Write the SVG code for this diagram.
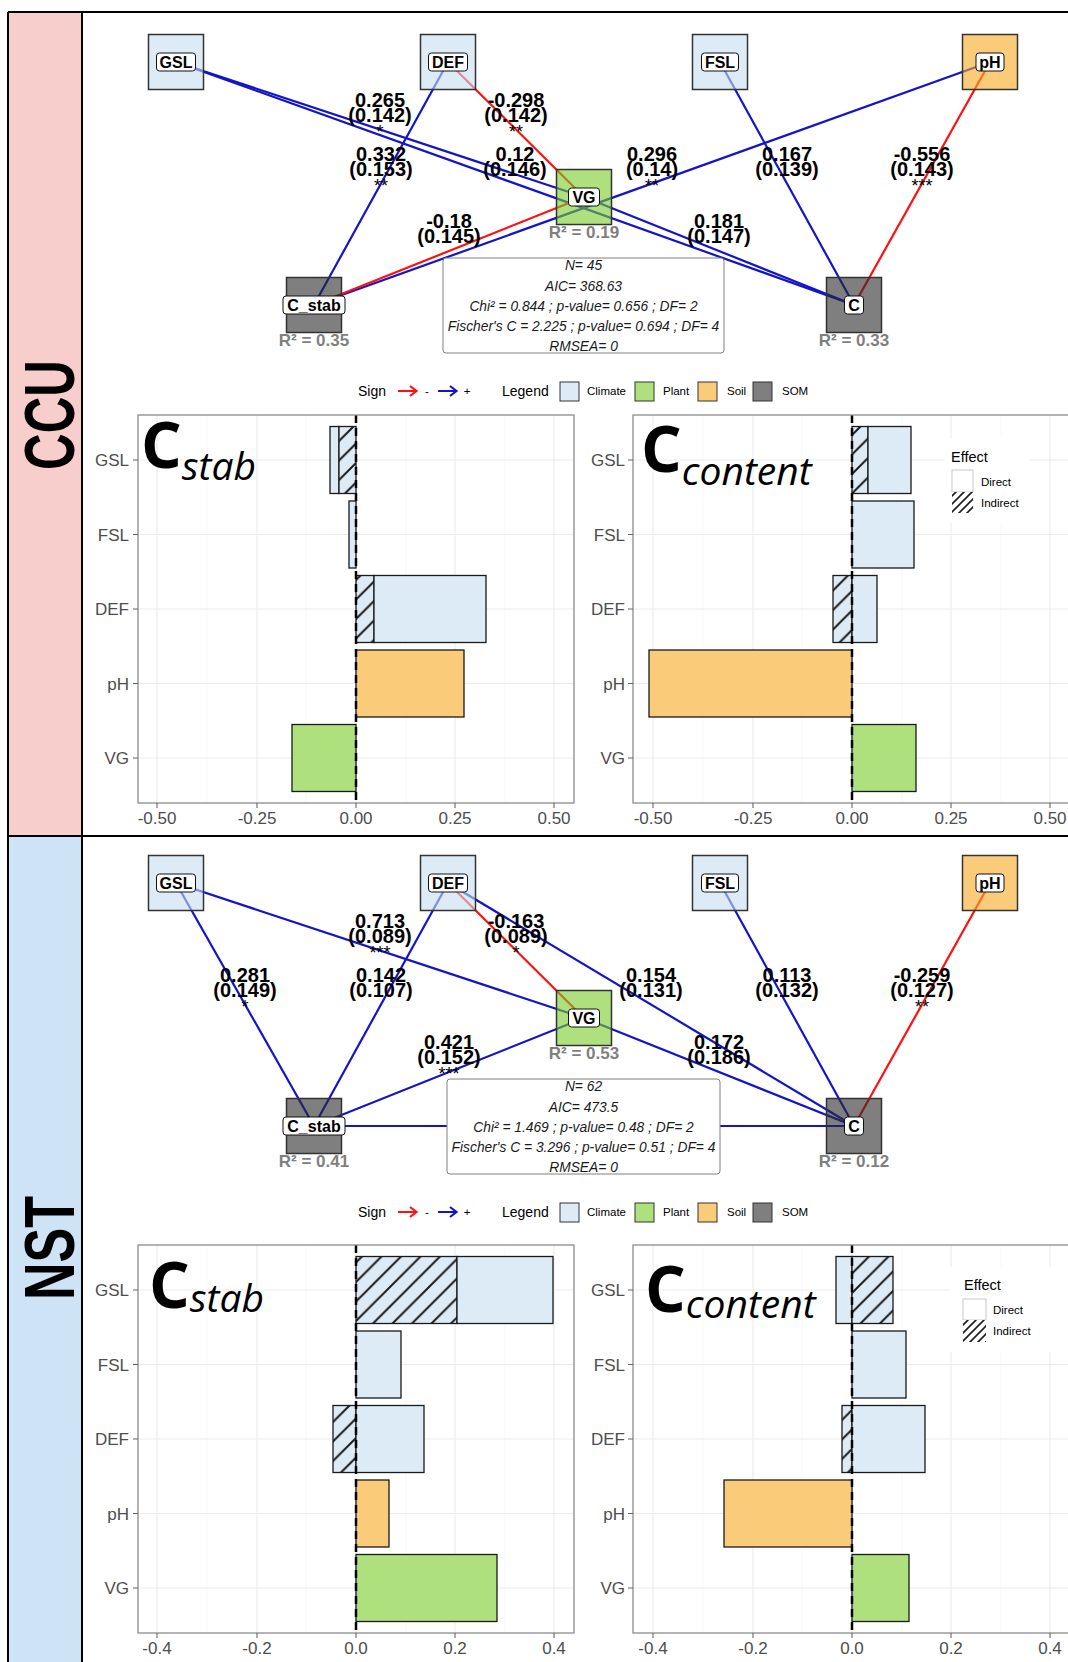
<svg xmlns="http://www.w3.org/2000/svg" width="1068" height="1662" viewBox="0 0 1068 1662">
<style>
text{font-family:"Liberation Sans",Arial,sans-serif}
.e{fill:none;stroke-width:2.2}
.p{stroke:#1414C8}
.n{stroke:#FF1010}
.el{font-weight:bold;font-size:20px;text-anchor:middle}
.sr{font-size:18px;text-anchor:middle}
.nb{stroke:#333;stroke-width:1.5}
.nc{fill:rgb(198,222,242);fill-opacity:.6}
.np{fill:rgb(120,203,40);fill-opacity:.6}
.ns{fill:rgb(246,170,33);fill-opacity:.6}
.nm{fill:rgb(42,42,42);fill-opacity:.6}
.lb{fill:#fff;stroke:#111;stroke-width:1}
.lt{font-weight:bold;font-size:16px;text-anchor:middle}
.r2{font-weight:bold;font-size:17px;fill:#7F7F7F;text-anchor:middle}
.sb{fill:#fff;stroke:#808080;stroke-width:1}
.stt{font-style:italic;font-size:13.8px;fill:#1A1A1A;text-anchor:middle}
.lg{font-size:14px}
.ls{font-size:11.5px}
.kc{fill:#DDEBF7}.kp{fill:#AEE07E}.ks{fill:#FACC7A}.km{fill:#7F7F7F}
.k{stroke:#333;stroke-width:1}
.gM{stroke:#EBEBEB;stroke-width:1.1;fill:none}
.gm{stroke:#F3F3F3;stroke-width:.6;fill:none}
.bar{stroke:#1A1A1A;stroke-width:1.3}
.h{fill:url(#hatch)}
.hk{fill:url(#hatchk)}
.z{stroke:#000;stroke-width:2.5;stroke-dasharray:8 5;fill:none}
.pb{fill:none;stroke:#8C8C8C;stroke-width:1.3}
.tk{stroke:#666;stroke-width:1.1;fill:none}
.ty{font-size:17px;fill:#4D4D4D;text-anchor:end}
.tx{font-size:17px;fill:#4D4D4D;text-anchor:middle}
.big{font-family:"Open Sans",sans-serif;font-weight:bold;font-size:64px}
.sub{font-family:"Open Sans",sans-serif;font-style:italic;font-size:39px}
.ef{font-size:14.5px}
.strip{font-weight:bold;font-size:70px;text-anchor:middle}
.arr{fill:none;stroke-width:2.2}
</style>
<defs>
<pattern id="hatch" patternUnits="userSpaceOnUse" width="19.5" height="19.5">
<path d="M-2,21.5 L21.5,-2 M-9.75,9.75 L9.75,-9.75 M9.75,29.25 L29.25,9.75" stroke="#1A1A1A" stroke-width="2"/>
</pattern>
<pattern id="hatchk" patternUnits="userSpaceOnUse" width="8" height="8">
<path d="M-1,9 L9,-1 M-4,4 L4,-4 M4,12 L12,4" stroke="#1A1A1A" stroke-width="1.6"/>
</pattern>
</defs>
<rect x="0" y="0" width="1068" height="1662" fill="#fff"/>

<g id="strips">
<rect x="8" y="12" width="74" height="824" fill="#F8CECC"/>
<rect x="8" y="836" width="74" height="830" fill="#CFE3F7"/>
<path d="M8,12 H1068 M8,836 H1068 M8,12 V1662 M82,12 V1662" stroke="#000" stroke-width="2" fill="none"/>
<text class="strip" transform="translate(74,415) rotate(-90)" textLength="110" lengthAdjust="spacingAndGlyphs">CCU</text>
<text class="strip" transform="translate(74,1248) rotate(-90)" textLength="104" lengthAdjust="spacingAndGlyphs">NST</text>
</g>

<!-- ================= CCU SEM ================= -->
<g id="ccu-connectors">
<path class="e p" d="M176,62 L584,197"/>
<path class="e p" d="M176,62 L854,305"/>
<path class="e n" d="M448,62 L584,197"/>
<path class="e p" d="M448,62 L314,305"/>
<path class="e p" d="M990,62 L314,305"/>
<path class="e n" d="M584,197 L314,305"/>
<path class="e p" d="M584,197 L854,305"/>
<path class="e p" d="M720,62 L854,305"/>
<path class="e n" d="M990,62 L854,305"/>
<text class="el" x="380" y="106.5">0.265</text><text class="el" x="380" y="121.5">(0.142)</text><text class="sr" x="380" y="137.5">*</text>
<text class="el" x="515" y="160.5">0.12</text><text class="el" x="515" y="175.5">(0.146)</text>
<text class="el" x="516" y="106.5">-0.298</text><text class="el" x="516" y="121.5">(0.142)</text><text class="sr" x="516" y="137.5">**</text>
<text class="el" x="381" y="160.5">0.332</text><text class="el" x="381" y="175.5">(0.153)</text><text class="sr" x="381" y="191.5">**</text>
<text class="el" x="652" y="160.5">0.296</text><text class="el" x="652" y="175.5">(0.14)</text><text class="sr" x="652" y="191.5">**</text>
<text class="el" x="449" y="228">-0.18</text><text class="el" x="449" y="243">(0.145)</text>
<text class="el" x="719" y="228">0.181</text><text class="el" x="719" y="243">(0.147)</text>
<text class="el" x="787" y="160.5">0.167</text><text class="el" x="787" y="175.5">(0.139)</text>
<text class="el" x="922" y="160.5">-0.556</text><text class="el" x="922" y="175.5">(0.143)</text><text class="sr" x="922" y="191.5">***</text>
</g>
<g id="ccu-stats">
<rect class="sb" x="443" y="258" width="281" height="95" rx="3"/>
<text class="stt" x="583.5" y="270">N= 45</text>
<text class="stt" x="583.5" y="290.5">AIC= 368.63</text>
<text class="stt" x="583.5" y="310.5">Chi² = 0.844 ; p-value= 0.656 ; DF= 2</text>
<text class="stt" x="583.5" y="330.5">Fischer's C = 2.225 ; p-value= 0.694 ; DF= 4</text>
<text class="stt" x="583.5" y="350.5">RMSEA= 0</text>
</g>
<g id="ccu-GSL"><rect class="nb nc" x="148.5" y="34.5" width="55" height="55"/><rect class="lb" x="156.5" y="53" width="39" height="18" rx="3"/><text class="lt" x="176" y="68">GSL</text></g>
<g id="ccu-DEF"><rect class="nb nc" x="420.5" y="34.5" width="55" height="55"/><rect class="lb" x="428.5" y="53" width="39" height="18" rx="3"/><text class="lt" x="448" y="68">DEF</text></g>
<g id="ccu-FSL"><rect class="nb nc" x="692.5" y="34.5" width="55" height="55"/><rect class="lb" x="701.5" y="53" width="37" height="18" rx="3"/><text class="lt" x="720" y="68">FSL</text></g>
<g id="ccu-pH"><rect class="nb ns" x="962.5" y="34.5" width="55" height="55"/><rect class="lb" x="976" y="53" width="28" height="18" rx="3"/><text class="lt" x="990" y="68">pH</text></g>
<g id="ccu-VG"><rect class="nb np" x="556.5" y="169.5" width="55" height="55"/><rect class="lb" x="568.5" y="188" width="31" height="18" rx="3"/><text class="lt" x="584" y="203">VG</text><text class="r2" x="584" y="238">R² = 0.19</text></g>
<g id="ccu-Cstab"><rect class="nb nm" x="286.5" y="277.5" width="55" height="55"/><rect class="lb" x="283" y="296" width="62" height="18" rx="3"/><text class="lt" x="314" y="311">C_stab</text><text class="r2" x="314" y="346">R² = 0.35</text></g>
<g id="ccu-C"><rect class="nb nm" x="826.5" y="277.5" width="55" height="55"/><rect class="lb" x="844.5" y="296" width="19" height="18" rx="3"/><text class="lt" x="854" y="311">C</text><text class="r2" x="854" y="346">R² = 0.33</text></g>

<g id="ccu-legend">
<text class="lg" x="358" y="396">Sign</text>
<path class="arr" stroke="#FF1010" d="M398,391 H416 M410,386 L416.5,391 L410,396"/>
<text class="ls" x="427" y="395" text-anchor="middle">-</text>
<path class="arr" stroke="#1414C8" d="M438,391 H456 M450,386 L456.5,391 L450,396"/>
<text class="ls" x="467" y="395" text-anchor="middle">+</text>
<text class="lg" x="502" y="396">Legend</text>
<rect class="k kc" x="560" y="382" width="19" height="19"/><text class="ls" x="587" y="395">Climate</text>
<rect class="k kp" x="635" y="382" width="19" height="19"/><text class="ls" x="663" y="395">Plant</text>
<rect class="k ks" x="698" y="382" width="19" height="19"/><text class="ls" x="727" y="395">Soil</text>
<rect class="k km" x="753" y="382" width="19" height="19"/><text class="ls" x="782" y="395">SOM</text>
</g>

<!-- CCU C_stab bar chart -->
<g id="ccu-cstab-chart">
<path class="gm" d="M207,415V803 M306,415V803 M406,415V803 M505,415V803"/>
<path class="gM" d="M157,415V803 M257,415V803 M356,415V803 M455,415V803 M554,415V803 M138,460H574 M138,534.5H574 M138,609H574 M138,683.5H574 M138,758H574"/>
<rect class="bar kc" x="330" y="426.5" width="9" height="67"/>
<rect class="kc" x="339" y="426.5" width="17" height="67"/><rect class="h" x="339" y="426.5" width="17" height="67"/><rect class="bar" fill="none" x="339" y="426.5" width="17" height="67"/>
<rect class="bar kc" x="349" y="501" width="7" height="67"/>
<rect class="kc" x="356" y="575.5" width="18" height="67"/><rect class="h" x="356" y="575.5" width="18" height="67"/><rect class="bar" fill="none" x="356" y="575.5" width="18" height="67"/>
<rect class="bar kc" x="374" y="575.5" width="112" height="67"/>
<rect class="bar ks" x="356" y="650" width="108" height="67"/>
<rect class="bar kp" x="292" y="724.5" width="64" height="67"/>
<path class="z" d="M356,415V803"/>
<rect class="pb" x="138" y="415" width="436" height="388"/>
<path class="tk" d="M133,460H138 M133,534.5H138 M133,609H138 M133,683.5H138 M133,758H138 M157,803V808 M257,803V808 M356,803V808 M455,803V808 M554,803V808"/>
<text class="ty" x="129" y="466">GSL</text><text class="ty" x="129" y="540.5">FSL</text><text class="ty" x="129" y="615">DEF</text><text class="ty" x="129" y="689.5">pH</text><text class="ty" x="129" y="764">VG</text>
<text class="tx" x="157" y="824">-0.50</text><text class="tx" x="257" y="824">-0.25</text><text class="tx" x="356" y="824">0.00</text><text class="tx" x="455" y="824">0.25</text><text class="tx" x="554" y="824">0.50</text>
<text x="141" y="468"><tspan class="big">C</tspan><tspan class="sub" dy="12">stab</tspan></text>
</g>

<!-- CCU C_content bar chart -->
<g id="ccu-ccontent-chart">
<path class="gm" d="M703,415V803 M802,415V803 M902,415V803 M1001,415V803"/>
<path class="gM" d="M653,415V803 M753,415V803 M852,415V803 M951,415V803 M1050,415V803 M633,460H1069 M633,534.5H1069 M633,609H1069 M633,683.5H1069 M633,758H1069"/>
<rect class="kc" x="852" y="426.5" width="16" height="67"/><rect class="h" x="852" y="426.5" width="16" height="67"/><rect class="bar" fill="none" x="852" y="426.5" width="16" height="67"/>
<rect class="bar kc" x="868" y="426.5" width="43" height="67"/>
<rect class="bar kc" x="852" y="501" width="62" height="67"/>
<rect class="kc" x="833" y="575.5" width="19" height="67"/><rect class="h" x="833" y="575.5" width="19" height="67"/><rect class="bar" fill="none" x="833" y="575.5" width="19" height="67"/>
<rect class="bar kc" x="852" y="575.5" width="25" height="67"/>
<rect class="bar ks" x="649" y="650" width="203" height="67"/>
<rect class="bar kp" x="852" y="724.5" width="64" height="67"/>
<path class="z" d="M852,415V803"/>
<rect class="pb" x="633" y="415" width="437" height="388"/>
<path class="tk" d="M628,460H633 M628,534.5H633 M628,609H633 M628,683.5H633 M628,758H633 M653,803V808 M753,803V808 M852,803V808 M951,803V808 M1050,803V808"/>
<text class="ty" x="625" y="466">GSL</text><text class="ty" x="625" y="540.5">FSL</text><text class="ty" x="625" y="615">DEF</text><text class="ty" x="625" y="689.5">pH</text><text class="ty" x="625" y="764">VG</text>
<text class="tx" x="653" y="824">-0.50</text><text class="tx" x="753" y="824">-0.25</text><text class="tx" x="852" y="824">0.00</text><text class="tx" x="951" y="824">0.25</text><text class="tx" x="1050" y="824">0.50</text>
<text x="641" y="472"><tspan class="big">C</tspan><tspan class="sub" dy="13">content</tspan></text>
<rect x="945" y="438" width="84" height="85" fill="#fff"/>
<text class="ef" x="951" y="462">Effect</text>
<rect x="952" y="470" width="21" height="22" fill="#fff" stroke="#BBB" stroke-width=".8"/>
<rect x="952" y="492" width="21" height="21" fill="#fff"/><rect class="hk" x="952" y="492" width="21" height="21"/>
<text class="ls" x="981" y="486">Direct</text><text class="ls" x="981" y="507">Indirect</text>
</g>

<!-- ================= NST SEM ================= -->
<g id="nst-connectors">
<path class="e p" d="M176,883 L314,1126"/>
<path class="e p" d="M176,883 L584,1018"/>
<path class="e p" d="M448,883 L314,1126"/>
<path class="e n" d="M448,883 L584,1018"/>
<path class="e p" d="M448,883 L854,1126"/>
<path class="e p" d="M584,1018 L314,1126"/>
<path class="e p" d="M584,1018 L854,1126"/>
<path class="e p" d="M720,883 L854,1126"/>
<path class="e n" d="M990,883 L854,1126"/>
<path class="e p" d="M314,1126 L854,1126"/>
<text class="el" x="245" y="981.5">0.281</text><text class="el" x="245" y="996.5">(0.149)</text><text class="sr" x="245" y="1012.5">*</text>
<text class="el" x="380" y="927.5">0.713</text><text class="el" x="380" y="942.5">(0.089)</text><text class="sr" x="380" y="958.5">***</text>
<text class="el" x="381" y="981.5">0.142</text><text class="el" x="381" y="996.5">(0.107)</text>
<text class="el" x="516" y="927.5">-0.163</text><text class="el" x="516" y="942.5">(0.089)</text><text class="sr" x="516" y="958.5">*</text>
<text class="el" x="651" y="981.5">0.154</text><text class="el" x="651" y="996.5">(0.131)</text>
<text class="el" x="449" y="1049">0.421</text><text class="el" x="449" y="1064">(0.152)</text><text class="sr" x="449" y="1080">***</text>
<text class="el" x="719" y="1049">0.172</text><text class="el" x="719" y="1064">(0.186)</text>
<text class="el" x="787" y="981.5">0.113</text><text class="el" x="787" y="996.5">(0.132)</text>
<text class="el" x="922" y="981.5">-0.259</text><text class="el" x="922" y="996.5">(0.127)</text><text class="sr" x="922" y="1012.5">**</text>
</g>
<g id="nst-stats">
<rect class="sb" x="447" y="1079" width="273" height="95" rx="3"/>
<text class="stt" x="583.5" y="1091">N= 62</text>
<text class="stt" x="583.5" y="1111.5">AIC= 473.5</text>
<text class="stt" x="583.5" y="1131.5">Chi² = 1.469 ; p-value= 0.48 ; DF= 2</text>
<text class="stt" x="583.5" y="1151.5">Fischer's C = 3.296 ; p-value= 0.51 ; DF= 4</text>
<text class="stt" x="583.5" y="1171.5">RMSEA= 0</text>
</g>
<g id="nst-GSL"><rect class="nb nc" x="148.5" y="855.5" width="55" height="55"/><rect class="lb" x="156.5" y="874" width="39" height="18" rx="3"/><text class="lt" x="176" y="889">GSL</text></g>
<g id="nst-DEF"><rect class="nb nc" x="420.5" y="855.5" width="55" height="55"/><rect class="lb" x="428.5" y="874" width="39" height="18" rx="3"/><text class="lt" x="448" y="889">DEF</text></g>
<g id="nst-FSL"><rect class="nb nc" x="692.5" y="855.5" width="55" height="55"/><rect class="lb" x="701.5" y="874" width="37" height="18" rx="3"/><text class="lt" x="720" y="889">FSL</text></g>
<g id="nst-pH"><rect class="nb ns" x="962.5" y="855.5" width="55" height="55"/><rect class="lb" x="976" y="874" width="28" height="18" rx="3"/><text class="lt" x="990" y="889">pH</text></g>
<g id="nst-VG"><rect class="nb np" x="556.5" y="990.5" width="55" height="55"/><rect class="lb" x="568.5" y="1009" width="31" height="18" rx="3"/><text class="lt" x="584" y="1024">VG</text><text class="r2" x="584" y="1059">R² = 0.53</text></g>
<g id="nst-Cstab"><rect class="nb nm" x="286.5" y="1098.5" width="55" height="55"/><rect class="lb" x="283" y="1117" width="62" height="18" rx="3"/><text class="lt" x="314" y="1132">C_stab</text><text class="r2" x="314" y="1167">R² = 0.41</text></g>
<g id="nst-C"><rect class="nb nm" x="826.5" y="1098.5" width="55" height="55"/><rect class="lb" x="844.5" y="1117" width="19" height="18" rx="3"/><text class="lt" x="854" y="1132">C</text><text class="r2" x="854" y="1167">R² = 0.12</text></g>

<g id="nst-legend">
<text class="lg" x="358" y="1217">Sign</text>
<path class="arr" stroke="#FF1010" d="M398,1212 H416 M410,1207 L416.5,1212 L410,1217"/>
<text class="ls" x="427" y="1216" text-anchor="middle">-</text>
<path class="arr" stroke="#1414C8" d="M438,1212 H456 M450,1207 L456.5,1212 L450,1217"/>
<text class="ls" x="467" y="1216" text-anchor="middle">+</text>
<text class="lg" x="502" y="1217">Legend</text>
<rect class="k kc" x="560" y="1203" width="19" height="19"/><text class="ls" x="587" y="1216">Climate</text>
<rect class="k kp" x="635" y="1203" width="19" height="19"/><text class="ls" x="663" y="1216">Plant</text>
<rect class="k ks" x="698" y="1203" width="19" height="19"/><text class="ls" x="727" y="1216">Soil</text>
<rect class="k km" x="753" y="1203" width="19" height="19"/><text class="ls" x="782" y="1216">SOM</text>
</g>

<!-- NST C_stab bar chart -->
<g id="nst-cstab-chart">
<path class="gm" d="M207,1245V1633 M306,1245V1633 M406,1245V1633 M505,1245V1633"/>
<path class="gM" d="M157,1245V1633 M257,1245V1633 M356,1245V1633 M455,1245V1633 M554,1245V1633 M138,1290H574 M138,1364.5H574 M138,1439H574 M138,1513.5H574 M138,1588H574"/>
<rect class="kc" x="356" y="1256.5" width="101" height="67"/><rect class="h" x="356" y="1256.5" width="101" height="67"/><rect class="bar" fill="none" x="356" y="1256.5" width="101" height="67"/>
<rect class="bar kc" x="457" y="1256.5" width="96" height="67"/>
<rect class="bar kc" x="356" y="1331" width="45" height="67"/>
<rect class="kc" x="333" y="1405.5" width="23" height="67"/><rect class="h" x="333" y="1405.5" width="23" height="67"/><rect class="bar" fill="none" x="333" y="1405.5" width="23" height="67"/>
<rect class="bar kc" x="356" y="1405.5" width="68" height="67"/>
<rect class="bar ks" x="356" y="1480" width="33" height="67"/>
<rect class="bar kp" x="356" y="1554.5" width="141" height="67"/>
<path class="z" d="M356,1245V1633"/>
<rect class="pb" x="138" y="1245" width="436" height="388"/>
<path class="tk" d="M133,1290H138 M133,1364.5H138 M133,1439H138 M133,1513.5H138 M133,1588H138 M157,1633V1638 M257,1633V1638 M356,1633V1638 M455,1633V1638 M554,1633V1638"/>
<text class="ty" x="129" y="1296">GSL</text><text class="ty" x="129" y="1370.5">FSL</text><text class="ty" x="129" y="1445">DEF</text><text class="ty" x="129" y="1519.5">pH</text><text class="ty" x="129" y="1594">VG</text>
<text class="tx" x="157" y="1654">-0.4</text><text class="tx" x="257" y="1654">-0.2</text><text class="tx" x="356" y="1654">0.0</text><text class="tx" x="455" y="1654">0.2</text><text class="tx" x="554" y="1654">0.4</text>
<text x="149" y="1308"><tspan class="big">C</tspan><tspan class="sub" dy="4">stab</tspan></text>
</g>

<!-- NST C_content bar chart -->
<g id="nst-ccontent-chart">
<path class="gm" d="M703,1245V1633 M802,1245V1633 M902,1245V1633 M1001,1245V1633"/>
<path class="gM" d="M653,1245V1633 M753,1245V1633 M852,1245V1633 M951,1245V1633 M1050,1245V1633 M633,1290H1069 M633,1364.5H1069 M633,1439H1069 M633,1513.5H1069 M633,1588H1069"/>
<rect class="bar kc" x="836" y="1256.5" width="16" height="67"/>
<rect class="kc" x="852" y="1256.5" width="41" height="67"/><rect class="h" x="852" y="1256.5" width="41" height="67"/><rect class="bar" fill="none" x="852" y="1256.5" width="41" height="67"/>
<rect class="bar kc" x="852" y="1331" width="54" height="67"/>
<rect class="kc" x="842" y="1405.5" width="10" height="67"/><rect class="h" x="842" y="1405.5" width="10" height="67"/><rect class="bar" fill="none" x="842" y="1405.5" width="10" height="67"/>
<rect class="bar kc" x="852" y="1405.5" width="73" height="67"/>
<rect class="bar ks" x="724" y="1480" width="128" height="67"/>
<rect class="bar kp" x="852" y="1554.5" width="57" height="67"/>
<path class="z" d="M852,1245V1633"/>
<rect class="pb" x="633" y="1245" width="437" height="388"/>
<path class="tk" d="M628,1290H633 M628,1364.5H633 M628,1439H633 M628,1513.5H633 M628,1588H633 M653,1633V1638 M753,1633V1638 M852,1633V1638 M951,1633V1638 M1050,1633V1638"/>
<text class="ty" x="625" y="1296">GSL</text><text class="ty" x="625" y="1370.5">FSL</text><text class="ty" x="625" y="1445">DEF</text><text class="ty" x="625" y="1519.5">pH</text><text class="ty" x="625" y="1594">VG</text>
<text class="tx" x="653" y="1654">-0.4</text><text class="tx" x="753" y="1654">-0.2</text><text class="tx" x="852" y="1654">0.0</text><text class="tx" x="951" y="1654">0.2</text><text class="tx" x="1050" y="1654">0.4</text>
<text x="645" y="1312"><tspan class="big">C</tspan><tspan class="sub" dy="6">content</tspan></text>
<rect x="950" y="1267" width="118" height="85" fill="#fff"/>
<text class="ef" x="964" y="1290">Effect</text>
<rect x="963" y="1299" width="23" height="21" fill="#fff" stroke="#BBB" stroke-width=".8"/>
<rect x="963" y="1320" width="23" height="22" fill="#fff"/><rect class="hk" x="963" y="1320" width="23" height="22"/>
<text class="ls" x="993" y="1314">Direct</text><text class="ls" x="993" y="1335">Indirect</text>
</g>
</svg>
